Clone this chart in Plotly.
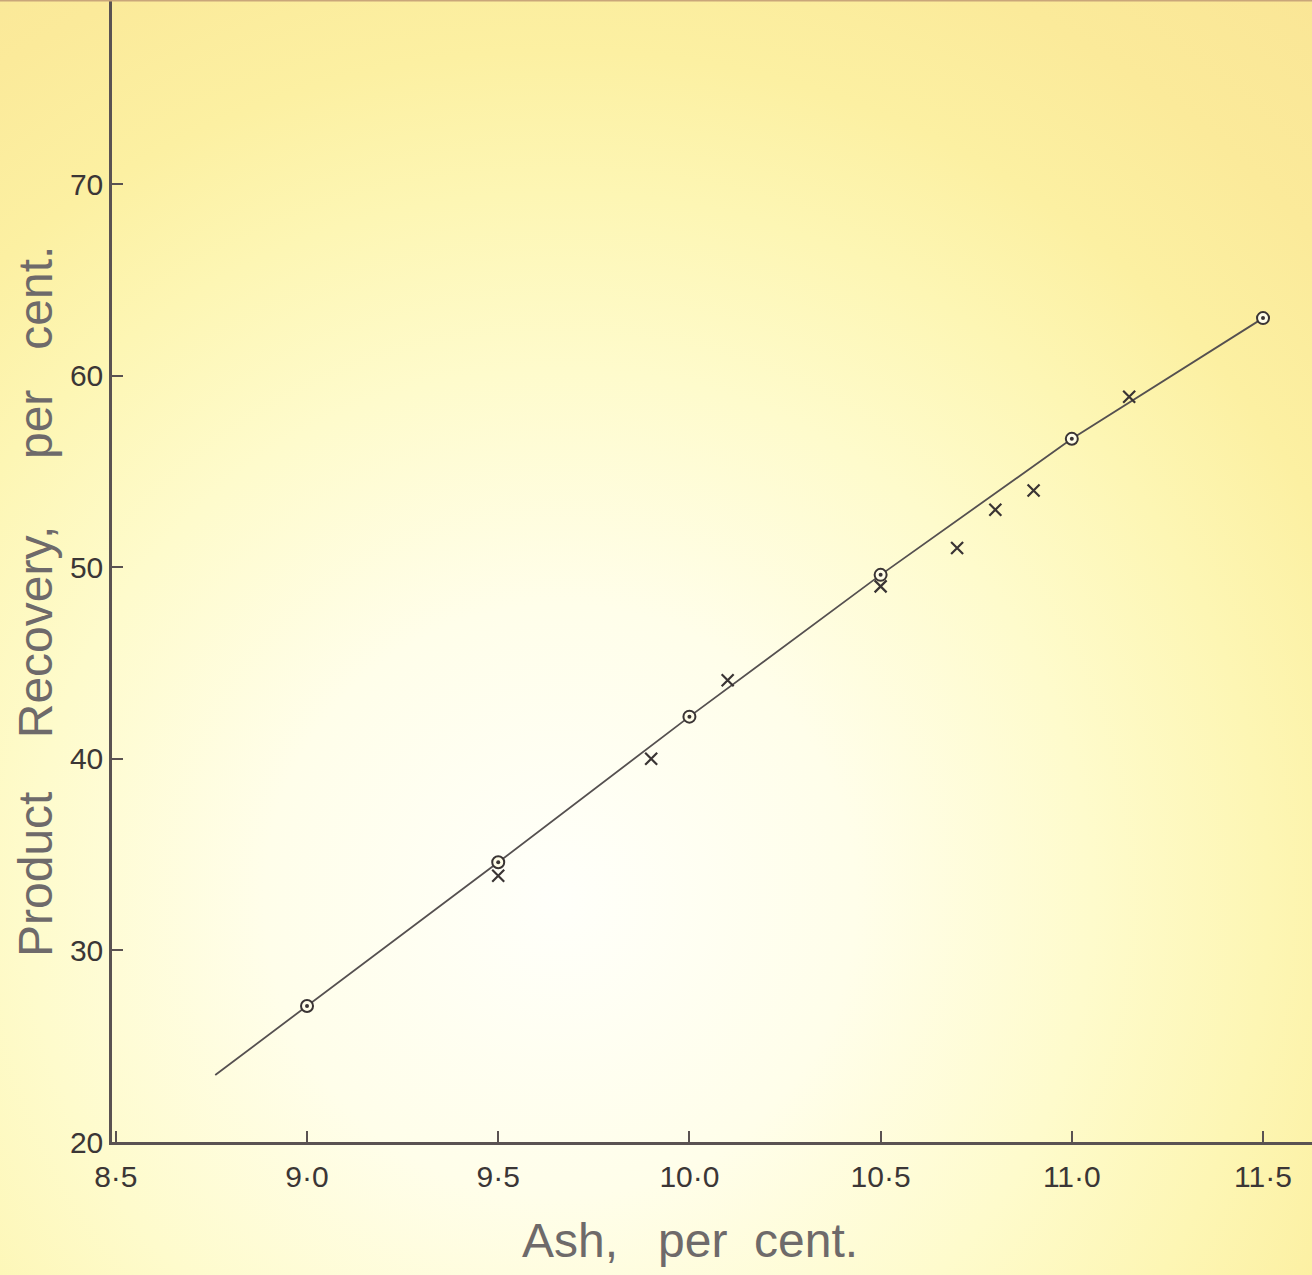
import base64
import plotly.graph_objects as go

# ---- data ----
circle_x = [9.0, 9.5, 10.0, 10.5, 11.0, 11.5]
circle_y = [27.1, 34.6, 42.2, 49.6, 56.7, 63.0]

cross_x = [9.5, 9.9, 10.1, 10.5, 10.7, 10.8, 10.9, 11.15]
cross_y = [33.9, 40.0, 44.1, 49.0, 51.0, 53.0, 54.0, 58.9]

line_x = [8.76, 9.0, 9.5, 10.0, 10.5, 11.0, 11.5]
line_y = [23.5, 27.1, 34.6, 42.2, 49.6, 56.7, 63.0]

x_tickvals = [8.5, 9.0, 9.5, 10.0, 10.5, 11.0, 11.5]
x_ticktext = ["8\u00b75", "9\u00b70", "9\u00b75", "10\u00b70", "10\u00b75", "11\u00b70", "11\u00b75"]
y_tickvals = [20, 30, 40, 50, 60, 70]
y_ticktext = ["20", "30", "40", "50", "60", "70"]

x_title = "Ash,\u00a0\u00a0\u00a0per\u00a0\u00a0cent."
y_title = "Product\u00a0\u00a0\u00a0\u00a0Recovery,\u00a0\u00a0\u00a0\u00a0\u00a0per\u00a0\u00a0\u00a0cent."

# ---- layout geometry ----
W, H = 1312, 1275
ML, MR, MT, MB = 112, 0, 0, 133
PW, PH = W - ML - MR, H - MT - MB

# background gradient (aged yellow paper)
svg = f'''<svg xmlns="http://www.w3.org/2000/svg" width="{W}" height="{H}">
<defs><radialGradient id="g" gradientUnits="userSpaceOnUse" cx="560" cy="900" r="1180">
<stop offset="0" stop-color="#fffffa"/>
<stop offset="0.25" stop-color="#fffeea"/>
<stop offset="0.45" stop-color="#fefbcc"/>
<stop offset="0.6" stop-color="#fdf6b4"/>
<stop offset="0.72" stop-color="#fcf0a2"/>
<stop offset="0.85" stop-color="#fbea9a"/>
<stop offset="1" stop-color="#fae696"/>
</radialGradient></defs>
<rect width="{W}" height="{H}" fill="url(#g)"/></svg>'''
bg_src = "data:image/svg+xml;base64," + base64.b64encode(svg.encode()).decode()

ink = "#3a3434"
axis_col = "#5a5252"
title_col = "#6e6a6a"
tick_font = dict(family="Liberation Sans, sans-serif", size=30, color="#3b3636")

fig = go.Figure()

fig.add_trace(go.Scatter(
    x=line_x, y=line_y, mode="lines",
    line=dict(color="#555050", width=1.8), hoverinfo="skip", showlegend=False))

fig.add_trace(go.Scatter(
    x=cross_x, y=cross_y, mode="markers",
    marker=dict(symbol="x-thin", size=12, line=dict(color=ink, width=2.2)),
    showlegend=False))

fig.add_trace(go.Scatter(
    x=circle_x, y=circle_y, mode="markers",
    marker=dict(symbol="circle", size=12, color="#fffde8", line=dict(color=ink, width=2)),
    showlegend=False))

fig.add_trace(go.Scatter(
    x=circle_x, y=circle_y, mode="markers",
    marker=dict(symbol="circle", size=4, color=ink, line=dict(width=0)),
    showlegend=False, hoverinfo="skip"))

x0 = 8.49
x1 = x0 + PW / 382.4
y0 = 20
y1 = y0 + PH / 19.16

fig.update_xaxes(
    range=[x0, x1], showgrid=False, zeroline=False,
    showline=True, linecolor=axis_col, linewidth=2.5,
    ticks="inside", ticklen=11, tickwidth=1.5, tickcolor=axis_col,
    tickvals=x_tickvals, ticktext=x_ticktext, tickfont=tick_font,
    ticklabelstandoff=6)
fig.update_yaxes(
    range=[y0, y1], showgrid=False, zeroline=False,
    showline=True, linecolor=axis_col, linewidth=2.5,
    ticks="inside", ticklen=11, tickwidth=1.5, tickcolor=axis_col,
    tickvals=y_tickvals, ticktext=y_ticktext, tickfont=tick_font,
    ticklabelstandoff=0)

title_font = dict(family="Liberation Sans, sans-serif", size=48, color=title_col)
fig.add_annotation(
    text=x_title, xref="paper", yref="paper",
    x=(690 - ML) / PW, y=-(1240 - (MT + PH)) / PH,
    xanchor="center", yanchor="middle", showarrow=False, font=title_font)
fig.add_annotation(
    text=y_title, xref="paper", yref="paper",
    x=(35 - ML) / PW, y=(MT + PH - 602) / PH, textangle=-90,
    xanchor="center", yanchor="middle", showarrow=False, font=title_font)

fig.add_layout_image(dict(
    source=bg_src, xref="paper", yref="paper",
    x=-ML / PW, y=1 + MT / PH, sizex=W / PW, sizey=H / PH,
    xanchor="left", yanchor="top", sizing="stretch", layer="below"))

fig.add_shape(type="line", xref="paper", yref="paper",
              x0=-ML / PW, x1=1, y0=1, y1=1,
              line=dict(color="#c9a67a", width=3))

fig.update_layout(
    width=W, height=H,
    margin=dict(l=ML, r=MR, t=MT, b=MB),
    paper_bgcolor="#fdf6c0", plot_bgcolor="rgba(0,0,0,0)",
    showlegend=False)

fig.write_html("out.html", config={"displayModeBar": False},
               post_script="document.body.style.margin='0';")
